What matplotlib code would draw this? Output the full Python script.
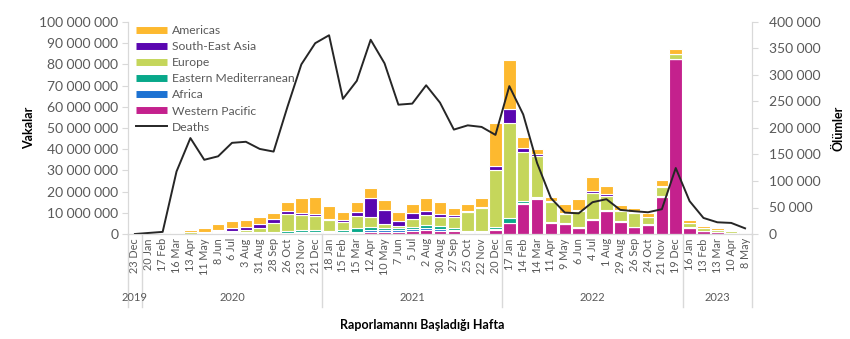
import matplotlib
matplotlib.use("Agg")
import matplotlib.pyplot as plt
from matplotlib.lines import Line2D
import matplotlib.transforms as mtransforms
import numpy as np

plt.rcParams['font.family'] = ['Lato', 'DejaVu Sans']

weeks = ["23 Dec", "20 Jan", "17 Feb", "16 Mar", "13 Apr", "11 May", "8 Jun", "6 Jul", "3 Aug",
         "31 Aug", "28 Sep", "26 Oct", "23 Nov", "21 Dec", "18 Jan", "15 Feb", "15 Mar", "12 Apr",
         "10 May", "7 Jun", "5 Jul", "2 Aug", "30 Aug", "27 Sep", "25 Oct", "22 Nov", "20 Dec",
         "17 Jan", "14 Feb", "14 Mar", "11 Apr", "9 May", "6 Jun", "4 Jul", "1 Aug", "29 Aug",
         "26 Sep", "24 Oct", "21 Nov", "19 Dec", "16 Jan", "13 Feb", "13 Mar", "10 Apr", "8 May"]
years = ["2019", "2020", "2021", "2022", "2023"]
year_counts = [1, 13, 13, 13, 5]

# cases in millions
western_pacific = [0, 0.01, 0.07, 0.05, 0.05, 0.05, 0.1, 0.2, 0.3, 0.3, 0.3, 0.3, 0.4, 0.5, 0.5,
                   0.5, 0.5, 0.9, 0.9, 0.8, 1.2, 1.7, 1.5, 1.2, 0.6, 0.6, 1.8, 5.0, 14.0, 16.7,
                   5.4, 4.7, 2.8, 6.7, 10.9, 5.8, 3.2, 4.3, 17.5, 82.5, 2.9, 1.3, 0.8, 0.6, 0.45]
africa = [0, 0, 0, 0.01, 0.03, 0.07, 0.2, 0.4, 0.3, 0.2, 0.2, 0.3, 0.4, 0.6, 0.5,
          0.5, 0.6, 0.8, 0.9, 1.0, 1.0, 1.0, 0.9, 0.7, 0.2, 0.3, 0.6, 0.4, 0.4, 0.2,
          0.1, 0.1, 0.2, 0.2, 0.1, 0.1, 0.1, 0.1, 0.1, 0.1, 0.1, 0.05, 0.05, 0.02, 0.01]
eastern_med = [0, 0, 0.01, 0.08, 0.15, 0.3, 0.5, 0.5, 0.5, 0.5, 0.6, 0.9, 1.0, 0.8, 0.6,
               0.9, 1.6, 1.6, 1.1, 1.0, 1.0, 1.6, 1.3, 1.0, 0.7, 0.6, 0.8, 2.1, 1.0, 0.6,
               0.3, 0.2, 0.3, 0.4, 0.3, 0.2, 0.2, 0.1, 0.1, 0.1, 0.1, 0.1, 0.05, 0.05, 0.02]
europe = [0, 0, 0.01, 0.45, 0.7, 0.5, 0.6, 0.5, 0.8, 1.6, 4.0, 7.8, 7.0, 6.4, 4.8,
          3.7, 6.0, 4.7, 2.0, 1.2, 3.8, 4.7, 4.4, 5.2, 8.7, 10.6, 27.0, 45.0, 23.5, 19.3,
          9.4, 4.6, 7.7, 12.2, 6.6, 4.9, 6.6, 3.6, 4.6, 2.0, 2.2, 1.4, 1.0, 0.7, 0.2]
south_east_asia = [0, 0, 0, 0.01, 0.08, 0.2, 0.6, 1.0, 1.5, 2.2, 1.9, 1.6, 1.2, 0.9, 0.7,
                   0.8, 1.8, 8.8, 6.5, 2.1, 3.0, 2.0, 1.4, 1.0, 0.6, 0.6, 2.0, 6.4, 1.6, 0.8,
                   0.3, 0.3, 0.5, 1.0, 0.8, 0.4, 0.2, 0.1, 0.2, 0.1, 0.1, 0.1, 0.1, 0.15, 0.05]
americas = [0, 0, 0.01, 0.5, 0.9, 1.6, 2.6, 3.5, 3.3, 3.0, 3.1, 4.4, 7.1, 8.3, 6.3,
            4.0, 4.7, 5.1, 4.6, 4.1, 4.0, 5.9, 5.4, 3.3, 3.2, 4.1, 20.0, 23.0, 5.3, 2.4,
            2.1, 4.1, 4.9, 6.5, 4.1, 2.2, 1.8, 1.5, 2.9, 2.6, 1.4, 1.0, 0.8, 0.5, 0.1]
deaths = [0, 2000, 4000, 118000, 181000, 140000, 146600, 172000, 174000, 160500, 155500,
          240000, 320000, 360000, 375000, 255000, 289000, 366500, 322000, 244000, 246000,
          280600, 247800, 197000, 205000, 202000, 187000, 279000, 225600, 134000, 67700,
          40400, 39000, 60000, 65700, 45500, 43000, 41000, 46800, 124500, 62000, 30300,
          22100, 20900, 10700]

series = [("Western Pacific", western_pacific, "#C4218D"),
          ("Africa", africa, "#1C72D2"),
          ("Eastern Mediterranean", eastern_med, "#08A88A"),
          ("Europe", europe, "#C5D65B"),
          ("South-East Asia", south_east_asia, "#5A06B0"),
          ("Americas", americas, "#FDB92F")]

gray = "#595959"
spine_c = "#D9D9D9"

fig = plt.figure(figsize=(8.5, 3.39), dpi=100)
ax = fig.add_axes([128/850, 1-234/339, (752-128)/850, (234-22)/339])
x = np.arange(len(weeks))
bottom = np.zeros(len(weeks))
for name, vals, col in series:
    v = np.array(vals) * 1e6
    ax.bar(x, v, bottom=bottom, width=0.9, color=col, edgecolor="white", linewidth=0.8, label=name)
    bottom += v

ax.set_xlim(-0.5, len(weeks) - 0.5)
ax.set_ylim(0, 100e6)
ax.set_yticks(np.arange(0, 100e6 + 1, 10e6))
ax.set_yticklabels(["0"] + ["{:,}".format(int(v)).replace(",", " ") for v in np.arange(10e6, 100e6 + 1, 10e6)])
ax.set_xticks(x)
ax.set_xticklabels(weeks, rotation=90, fontsize=7.8, color=gray)
ax.tick_params(axis='x', length=0, pad=3)
ax.tick_params(axis='y', colors=spine_c, labelcolor=gray, labelsize=10, length=4, pad=3)
ax.spines["top"].set_visible(False)
for s in ["left", "right", "bottom"]:
    ax.spines[s].set_color(spine_c)
ax.set_ylabel("Vakalar", fontsize=9, fontweight="bold", color="black", labelpad=3)

ax2 = ax.twinx()
ax2.plot(x, deaths, color="#262626", linewidth=1.4)
ax2.set_ylim(0, 400000)
ax2.set_yticks(np.arange(0, 400001, 50000))
ax2.set_yticklabels(["0"] + ["{:,}".format(int(v)).replace(",", " ") for v in np.arange(50000, 400001, 50000)])
ax2.tick_params(axis='y', colors=spine_c, labelcolor=gray, labelsize=10, length=4, pad=8)
ax2.spines["top"].set_visible(False)
for s in ["left", "right", "bottom"]:
    ax2.spines[s].set_color(spine_c)
ax2.set_ylabel("Ölümler", fontsize=9, fontweight="bold", color="black", labelpad=9)

# year grouping
trans = mtransforms.blended_transform_factory(ax.transData, ax.transAxes)
edges = np.concatenate([[0], np.cumsum(year_counts)]) - 0.5
for e in edges:
    ax.plot([e, e], [0, -0.345], transform=trans, color=spine_c, linewidth=1, clip_on=False)
for i, yr in enumerate(years):
    cx = (edges[i] + edges[i + 1]) / 2
    ax.text(cx, -0.30, yr, transform=trans, ha="center", va="center", fontsize=8, color=gray)

fig.text(422/850, 1-325/339, "Raporlamannı Başladığı Hafta", ha="center", va="center",
         fontsize=9, fontweight="bold")

handles = [Line2D([0], [0], color=c, lw=5, solid_capstyle="butt") for _, _, c in series[::-1]]
labels = [n for n, _, _ in series[::-1]]
handles.append(Line2D([0], [0], color="#262626", lw=1.4))
labels.append("Deaths")
leg = ax2.legend(handles, labels, loc="upper left", bbox_to_anchor=(0.0, 1.025), frameon=False,
                 fontsize=8.7, labelcolor=gray, handlelength=2.5, handletextpad=0.45,
                 labelspacing=0.42, borderaxespad=0.3)

fig.savefig("out.png", dpi=100)
